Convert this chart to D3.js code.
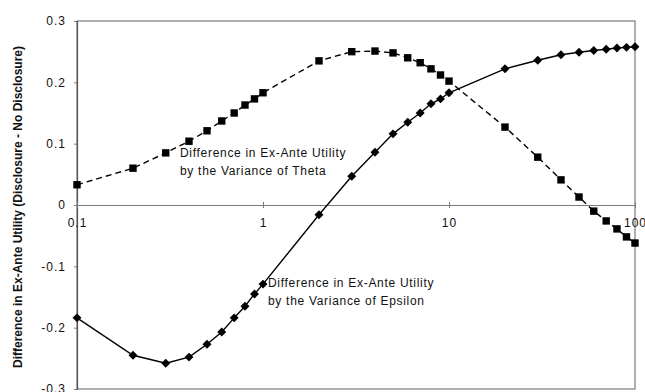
<!DOCTYPE html>
<html>
<head>
<meta charset="utf-8">
<script src="https://cdn.jsdelivr.net/npm/d3@7"></script>
<style>
  html, body { margin: 0; padding: 0; background: #fff; }
  svg { display: block; font-family: "Liberation Sans", Arial, sans-serif; }
</style>
</head>
<body>
<svg id="chart" width="645" height="392"></svg>
<script>
// Variance levels (log scale)
const variances = [0.1, 0.2, 0.3, 0.4, 0.5, 0.6, 0.7, 0.8, 0.9, 1,
                   2, 3, 4, 5, 6, 7, 8, 9, 10,
                   20, 30, 40, 50, 60, 70, 80, 90, 100];
// Difference in ex-ante utility, varying the variance of theta
const thetaValues = [0.033, 0.060, 0.085, 0.104, 0.121, 0.137, 0.150, 0.163, 0.173, 0.183,
                     0.235, 0.250, 0.251, 0.248, 0.240, 0.232, 0.222, 0.212, 0.202,
                     0.127, 0.078, 0.041, 0.013, -0.010, -0.026, -0.039, -0.052, -0.062];
// Difference in ex-ante utility, varying the variance of epsilon
const epsilonValues = [-0.184, -0.245, -0.258, -0.248, -0.227, -0.207, -0.184, -0.165, -0.145, -0.129,
                       -0.016, 0.047, 0.086, 0.116, 0.135, 0.150, 0.165, 0.173, 0.183,
                       0.222, 0.236, 0.245, 0.249, 0.252, 0.254, 0.256, 0.257, 0.258];
const xTicks = [0.1, 1, 10, 100];
const xTickLabels = ["0.1", "1", "10", "100"];
const yTicks = [-0.3, -0.2, -0.1, 0, 0.1, 0.2, 0.3];
const yTickLabels = ["-0.3", "-0.2", "-0.1", "0", "0.1", "0.2", "0.3"];
const yTitle = "Difference in Ex-Ante Utility (Disclosure - No Disclosure)";
const thetaLabel = ["Difference in Ex-Ante Utility", "by the Variance of Theta"];
const epsilonLabel = ["Difference in Ex-Ante Utility", "by the Variance of Epsilon"];

const svg = d3.select("#chart");
const x = d3.scaleLog().domain([0.1, 100]).range([77, 635]);
const y = d3.scaleLinear().domain([-0.3, 0.3]).range([389, 21]);

const frame = "#7a7a7a";

// plot frame
svg.append("rect")
  .attr("x", x(0.1)).attr("y", y(0.3))
  .attr("width", x(100) - x(0.1)).attr("height", y(-0.3) - y(0.3))
  .attr("fill", "none").attr("stroke", frame).attr("stroke-width", 1.2);

// y axis (left)
const yAxis = d3.axisLeft(y).tickValues(yTicks)
  .tickFormat((d, i) => yTickLabels[i]).tickSize(3).tickPadding(8);
const gy = svg.append("g").attr("transform", `translate(${x(0.1)},0)`).call(yAxis);
gy.select(".domain").attr("stroke", "#555").attr("stroke-width", 1.2);
gy.selectAll(".tick line").attr("stroke", frame);
gy.selectAll(".tick text")
  .attr("font-size", 12).attr("fill", "#111")
  .style("letter-spacing", "1px")
  .attr("font-family", "'Liberation Sans', Arial, sans-serif");

// x axis drawn along the zero line
const xAxis = d3.axisBottom(x).tickValues(xTicks)
  .tickFormat((d, i) => xTickLabels[i]).tickSizeInner(3).tickSizeOuter(0).tickPadding(10);
const gx = svg.append("g").attr("transform", `translate(0,${y(0)})`).call(xAxis);
gx.select(".domain").attr("stroke", frame).attr("stroke-width", 1.2);
gx.selectAll(".tick line").attr("stroke", frame).attr("y1", -3);
gx.selectAll(".tick text")
  .attr("font-size", 12).attr("fill", "#111")
  .style("letter-spacing", "1px")
  .attr("font-family", "'Liberation Sans', Arial, sans-serif");

// y axis title
svg.append("text")
  .attr("transform", `translate(22,${(y(0.3) + y(-0.3)) / 2 + 2}) rotate(-90)`)
  .attr("text-anchor", "middle")
  .attr("font-size", 12).attr("font-weight", "bold").attr("fill", "#111")
  .text(yTitle);

const thetaData = variances.map((v, i) => ({ x: v, y: thetaValues[i] }));
const epsilonData = variances.map((v, i) => ({ x: v, y: epsilonValues[i] }));
const line = d3.line().x(d => x(d.x)).y(d => y(d.y));

// theta series: dashed line with square markers
svg.append("path").datum(thetaData)
  .attr("d", line).attr("fill", "none")
  .attr("stroke", "#000").attr("stroke-width", 1.4)
  .attr("stroke-dasharray", "6,4");
svg.append("g").selectAll("rect").data(thetaData).join("rect")
  .attr("x", d => x(d.x) - 3.7).attr("y", d => y(d.y) - 3.7)
  .attr("width", 7.4).attr("height", 7.4).attr("fill", "#000");

// epsilon series: solid line with diamond markers
svg.append("path").datum(epsilonData)
  .attr("d", line).attr("fill", "none")
  .attr("stroke", "#000").attr("stroke-width", 1.4);
// square diamond: equal half-width and half-height
const wideDiamond = {
  draw(ctx, size) {
    const r = Math.sqrt(size / 2);
    ctx.moveTo(0, -r); ctx.lineTo(r, 0); ctx.lineTo(0, r); ctx.lineTo(-r, 0); ctx.closePath();
  }
};
const diamond = d3.symbol().type(wideDiamond).size(40);
svg.append("g").selectAll("path").data(epsilonData).join("path")
  .attr("transform", d => `translate(${x(d.x)},${y(d.y)})`)
  .attr("d", diamond).attr("fill", "#000");

// series annotations
function annotate(lines, px, py) {
  const t = svg.append("text")
    .attr("font-size", 12).attr("fill", "#111")
    .style("letter-spacing", "0.7px");
  lines.forEach((s, i) => {
    t.append("tspan").attr("x", px).attr("y", py + i * 18).text(s);
  });
}
annotate(thetaLabel, 180, 157);
annotate(epsilonLabel, 268, 287);
</script>
</body>
</html>
